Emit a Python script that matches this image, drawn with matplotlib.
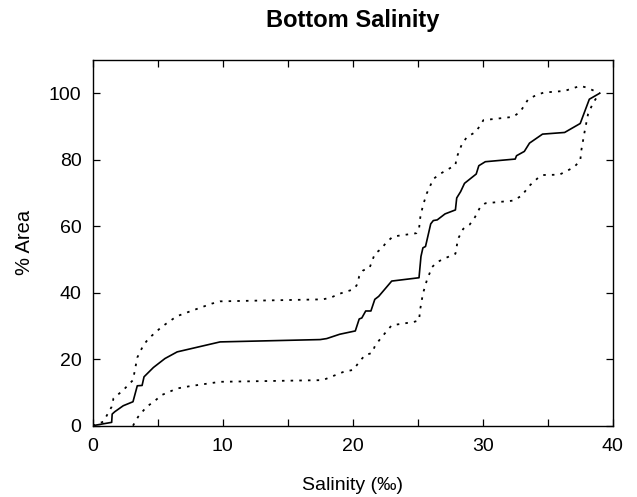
import numpy as np
import matplotlib.pyplot as plt
from matplotlib.ticker import MultipleLocator

plt.rcParams['font.family'] = ['Liberation Sans', 'DejaVu Sans']

# curva media (linea continua)
sal_mean = [0.0, 1.46, 1.5, 1.7, 2.35, 3.1, 3.43, 3.8, 3.95, 4.67, 5.56, 6.5, 9.8,
            17.5, 18.0, 19.0, 20.2, 20.5, 20.7, 21.0, 21.4, 21.7, 22.0, 23.0, 25.1,
            25.25, 25.4, 25.6, 26.0, 26.2, 26.5, 27.1, 27.9, 28.0, 28.3, 28.6, 29.5,
            29.7, 30.2, 32.5, 32.6, 33.2, 33.6, 34.6, 36.3, 37.5, 38.2, 39.0]
area_mean = [0.0, 1.0, 3.5, 4.2, 6.0, 7.2, 12.0, 12.1, 14.7, 17.5, 20.2, 22.2, 25.2,
             25.9, 26.2, 27.5, 28.5, 32.1, 32.4, 34.5, 34.5, 38.0, 38.9, 43.5, 44.5,
             50.9, 53.5, 53.9, 60.7, 61.7, 61.9, 63.7, 64.9, 68.5, 70.4, 72.9, 75.7,
             78.2, 79.4, 80.2, 81.2, 82.5, 85.0, 87.7, 88.2, 90.9, 98.2, 100.0]

# limite superiore (tratteggiato)
sal_up = [0.0, 0.82, 1.46, 1.6, 2.35, 3.1, 3.43, 3.9, 4.3, 5.3, 6.46, 7.5, 9.15, 9.8,
          17.7, 18.3, 19.0, 20.05, 20.3, 20.5, 20.8, 21.3, 21.7, 22.2, 22.6, 23.1,
          24.9, 25.1, 25.2, 25.4, 25.7, 26.2, 26.7, 27.9, 28.0, 28.4, 28.8, 29.4,
          29.8, 30.05, 32.35, 32.9, 33.5, 34.15, 34.7, 36.3, 37.5, 38.0, 39.0]
area_up = [0.0, 1.2, 5.7, 8.2, 10.7, 13.7, 20.5, 24.2, 26.2, 29.7, 32.9, 34.4, 36.7, 37.4,
           38.0, 38.5, 39.7, 41.0, 42.2, 44.9, 46.7, 47.5, 51.7, 53.2, 55.2, 56.9,
           57.9, 59.2, 62.7, 66.2, 69.9, 74.2, 75.7, 78.4, 80.7, 84.7, 86.9, 88.2,
           90.2, 91.9, 92.9, 94.5, 98.2, 99.5, 100.2, 100.7, 102.2, 101.7, 100.0]

# limite inferiore (tratteggiato)
sal_low = [3.1, 3.5, 4.15, 4.7, 5.3, 6.5, 7.5, 9.8, 17.7, 19.3, 20.05, 20.56, 20.95,
           21.5, 21.7, 22.0, 22.5, 23.0, 24.7, 25.1, 25.2, 25.4, 25.7, 26.1, 26.5,
           27.0, 27.9, 28.1, 28.5, 29.0, 29.4, 29.8, 30.2, 32.35, 33.0, 33.6, 34.3,
           34.65, 35.9, 37.0, 37.5, 37.6, 37.85, 38.1, 38.5, 39.0]
area_low = [0.0, 2.7, 5.7, 7.2, 9.2, 11.2, 11.9, 13.2, 13.7, 16.2, 16.8, 19.5, 21.2,
            21.9, 23.9, 25.5, 27.9, 30.2, 31.2, 31.7, 35.2, 39.7, 43.7, 47.7, 49.2,
            50.2, 51.7, 56.2, 59.2, 60.5, 62.7, 65.7, 66.9, 67.7, 69.2, 72.2, 74.7,
            75.4, 75.5, 77.7, 79.7, 83.2, 88.7, 93.7, 97.2, 100.0]

fig = plt.figure(figsize=(6.37, 4.97), dpi=100)
ax = fig.add_axes([0.1455, 0.1435, 0.8164, 0.7358])

ls_dot = (0, (1.4, 3.4))
ax.plot(sal_up, area_up, color='black', lw=1.3, linestyle=ls_dot)
ax.plot(sal_low, area_low, color='black', lw=1.3, linestyle=ls_dot)
ax.plot(sal_mean, area_mean, color='black', lw=1.2)

ax.set_xlim(0, 40)
ax.set_ylim(0, 110)
ax.xaxis.set_major_locator(MultipleLocator(10))
ax.xaxis.set_minor_locator(MultipleLocator(5))
ax.yaxis.set_major_locator(MultipleLocator(20))
ax.tick_params(which='both', direction='in', top=True, right=True, length=5, width=0.9)
ax.tick_params(axis='x', pad=9, labelsize=14)
ax.tick_params(axis='y', pad=8, labelsize=14)
for s in ax.spines.values():
    s.set_linewidth(1.0)

ax.set_title('Bottom Salinity', fontsize=17, fontweight='bold', pad=24)
ax.set_xlabel('Salinity (‰)', fontsize=14, labelpad=16)
ax.set_ylabel('% Area', fontsize=14.5, labelpad=11)

plt.savefig('out.png', dpi=100)
